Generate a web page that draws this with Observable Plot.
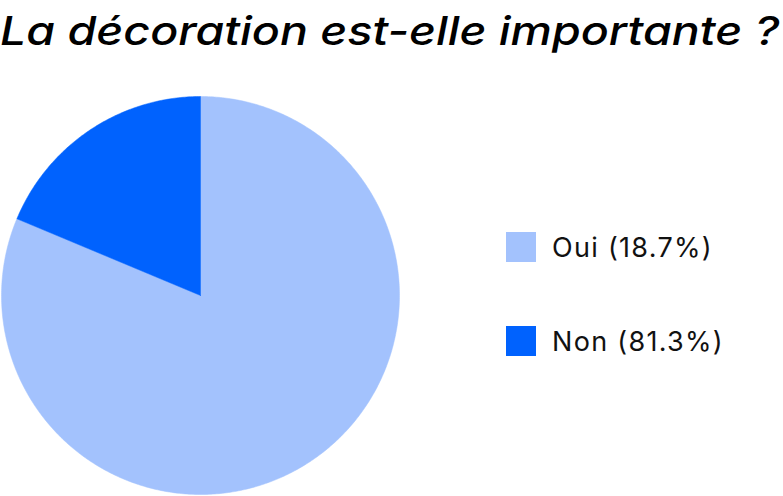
<!DOCTYPE html>
<html>
<head>
<meta charset="utf-8">
<script src="https://cdn.jsdelivr.net/npm/d3@7"></script>
<script src="https://cdn.jsdelivr.net/npm/@observablehq/plot@0.6"></script>
<style>
  html, body { margin: 0; padding: 0; background: #fff; }
  #wrap { position: relative; width: 783px; height: 496px; overflow: hidden; font-family: Inter, "Noto Sans", sans-serif; }
  #title { position: absolute; left: 0; top: 6px; width: 672px; font-size: 40px; font-style: italic; font-weight: 500; color: #000; white-space: nowrap; transform: scaleX(1.163); transform-origin: 0 0; }
  #legend { position: absolute; left: 506px; top: 232px; }
  .item { display: flex; align-items: center; height: 30px; margin-bottom: 64px; font-size: 27px; color: #111; letter-spacing: 1.3px; }
  .sw { width: 30px; height: 30px; margin-right: 16px; }
  #chart { position: absolute; left: 0; top: 0; }
</style>
</head>
<body>
<div id="wrap">
  <div id="chart"></div>
  <div id="title">La décoration est-elle importante ?</div>
  <div id="legend"></div>
</div>
<script>
const categories = ["Oui", "Non"];
const percentLabels = [18.7, 81.3];
const colors = ["#a3c2fd", "#0062fe"];
// slice shares as drawn in the picture (light, dark)
const pieShares = [81.3, 18.7];

const arcs = d3.pie().sort(null)(pieShares);
const pts = [];
arcs.forEach((a, i) => {
  const n = Math.max(2, Math.ceil((a.endAngle - a.startAngle) / 0.01));
  pts.push({s: i, x: 0, y: 0});
  for (let k = 0; k <= n; k++) {
    const t = a.startAngle + (a.endAngle - a.startAngle) * k / n;
    pts.push({s: i, x: Math.sin(t), y: Math.cos(t)});
  }
  pts.push({s: i, x: 0, y: 0});
});

const plot = Plot.plot({
  width: 783,
  height: 496,
  margin: 0,
  x: {domain: [-1, 1], range: [1, 399], axis: null},
  y: {domain: [-1, 1], range: [494, 96], axis: null},
  marks: [
    Plot.line(pts, {x: "x", y: "y", z: "s", fill: d => colors[d.s], stroke: d => colors[d.s], strokeWidth: 0.5, curve: "linear"})
  ]
});
document.getElementById("chart").appendChild(plot);

const leg = document.getElementById("legend");
categories.forEach((c, i) => {
  const it = document.createElement("div");
  it.className = "item";
  it.innerHTML = `<div class="sw" style="background:${colors[i]}"></div><span>${c} (${percentLabels[i]}%)</span>`;
  leg.appendChild(it);
});
</script>
</body>
</html>
